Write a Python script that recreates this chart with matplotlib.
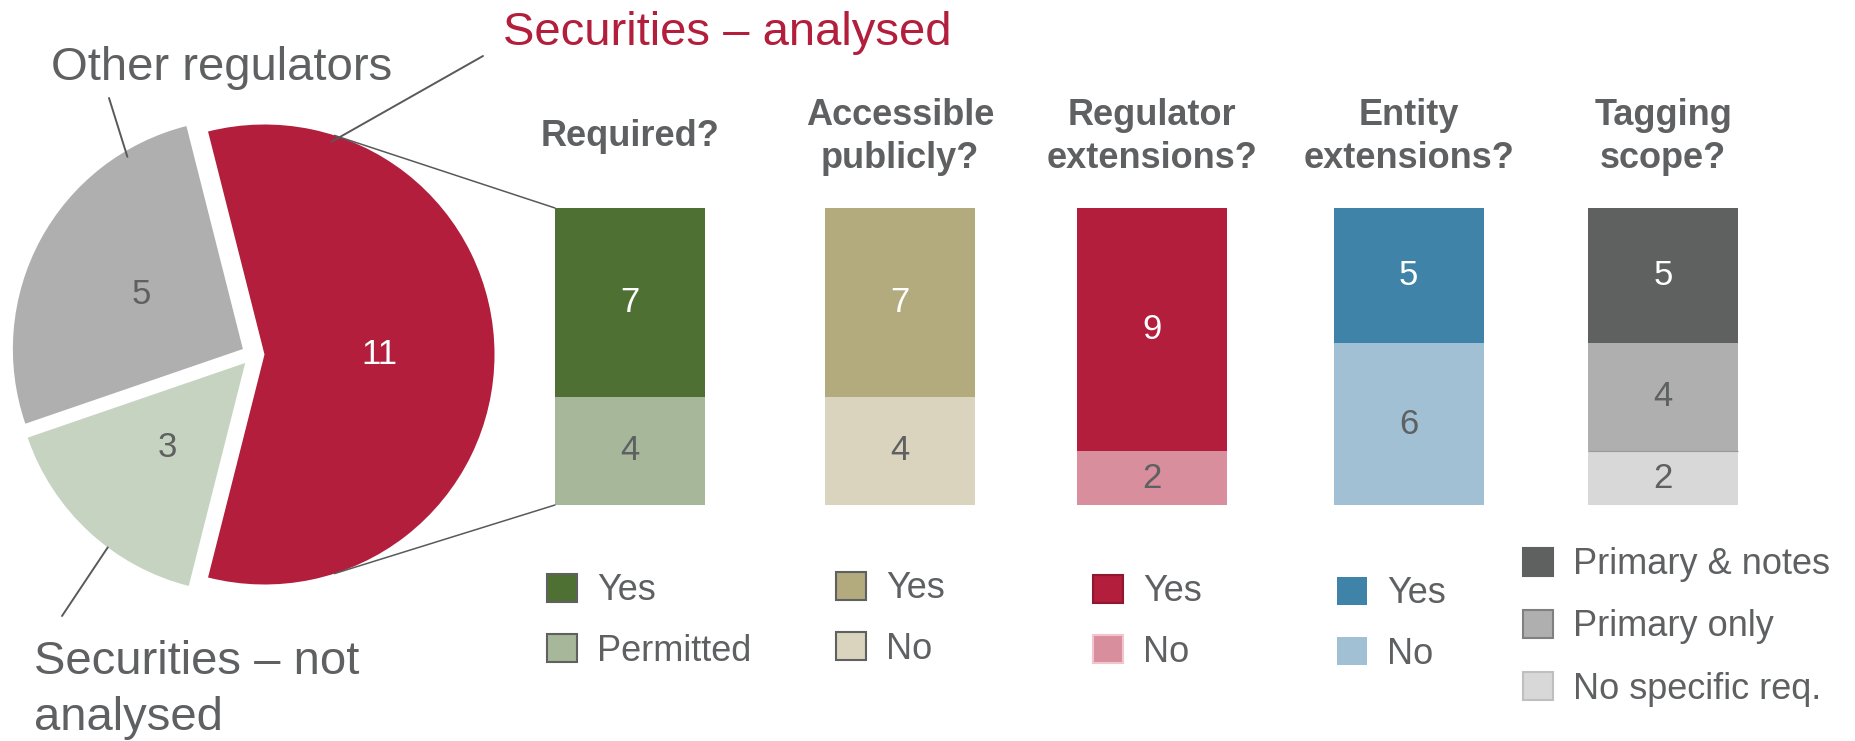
import numpy as np
import matplotlib
matplotlib.use('Agg')
import matplotlib.pyplot as plt
import matplotlib.transforms as mtransforms
from matplotlib.patches import Patch, ConnectionPatch

plt.rcParams['font.family'] = ['Liberation Sans', 'DejaVu Sans']

W, H = 1856, 741
TEXT = '#5F6062'
LINE = '#595959'

# pie: all regulators
pie_labels = ['Securities – analysed', 'Other regulators', 'Securities – not\nanalysed']
pie_values = [11, 5, 3]
pie_colors = ['#B21E3B', '#AFAFAF', '#C6D3C1']

# bars: breakdown of the analysed securities regulators
questions = ['Required?', 'Accessible\npublicly?', 'Regulator\nextensions?',
             'Entity\nextensions?', 'Tagging\nscope?']
answers = [['Yes', 'Permitted'],
           ['Yes', 'No'],
           ['Yes', 'No'],
           ['Yes', 'No'],
           ['Primary & notes', 'Primary only', 'No specific req.']]
counts = [[7, 4], [7, 4], [9, 2], [5, 6], [5, 4, 2]]
bar_colors = [['#4E7133', '#A7B799'],
              ['#B3AA7D', '#DAD4BE'],
              ['#B21E3B', '#D98E9D'],
              ['#3F83A9', '#A1C0D4'],
              ['#5F6060', '#AFAFAF', '#D8D8D8']]
legend_edges = [['#5F6060', '#5F6060'],
                ['#5F6060', '#5F6060'],
                ['#8E1830', '#F2C4CE'],
                ['none', 'none'],
                ['#5F6060', '#808080', '#BFBFBF']]

# layout (pixels from top-left of the picture)
bar_pos = [0, 1.05, 2.03, 3.03, 4.02]
legend_anchor = [(547, 621), (836, 619), (1093, 622), (1337, 624), (1523, 627)]


def fx(px):
    return px / W


def fy(py):
    return 1 - py / H


fig = plt.figure(figsize=(W / 100, H / 100), dpi=100)

# ---- pie ----
R_PX, CX, CY = 230, 253, 354.5
pie_ax = fig.add_axes([0, 0, 520 / W, 1])
total = sum(pie_values)
wedges, _, autotexts = pie_ax.pie(
    pie_values, explode=[0.05] * 3, colors=pie_colors,
    startangle=-180 * pie_values[0] / total,
    autopct=lambda p: f'{p * total / 100:.0f}', pctdistance=0.5,
    textprops=dict(fontsize=25, color=TEXT), wedgeprops=dict(linewidth=0))
autotexts[0].set_color('white')
pie_ax.set_xlim(-CX / R_PX, (520 - CX) / R_PX)
pie_ax.set_ylim((CY - H) / R_PX, CY / R_PX)
pie_ax.set_aspect('auto')
pie_ax.axis('off')


def on_wedge(w, ang, r=1.0):
    cx, cy = w.center
    a = np.deg2rad(ang)
    return cx + r * w.r * np.cos(a), cy + r * w.r * np.sin(a)


# leader lines and labels for the pie
leaders = [(0, 72.5, 0.97, (483, 56)), (1, 121, 0.975, (109, 98)), (2, 233.3, 1.0, (62, 616))]
for i, ang, r, (lx, ly) in leaders:
    pie_ax.annotate('', xy=on_wedge(wedges[i], ang, r), xycoords='data',
                    xytext=(fx(lx), fy(ly)), textcoords='figure fraction',
                    arrowprops=dict(arrowstyle='-', color=LINE, lw=1.4,
                                    shrinkA=0, shrinkB=0))

fig.text(fx(503), fy(45), pie_labels[0], fontsize=34, color=pie_colors[0],
         ha='left', va='baseline')
fig.text(fx(51), fy(80), pie_labels[1], fontsize=34, color=TEXT,
         ha='left', va='baseline')
fig.text(fx(34), fy(730), pie_labels[2], fontsize=34, color=TEXT,
         ha='left', va='baseline', linespacing=1.34)

# ---- stacked bars ----
unit = 257
bar_ax = fig.add_axes([fx(480), fy(505), (1800 - 480) / W, (505 - 208) / H])
width = 150 / unit
top_rects = []
for k, (vals, cols) in enumerate(zip(counts, bar_colors)):
    bottom = 0
    rects = []
    for j in range(len(vals) - 1, -1, -1):
        b = bar_ax.bar(bar_pos[k], vals[j], width=width, bottom=bottom,
                       color=cols[j], linewidth=0)
        rects.append(b[0])
        txt_col = 'white' if j == 0 else TEXT
        bar_ax.text(bar_pos[k], bottom + vals[j] / 2, str(vals[j]), fontsize=25,
                    color=txt_col, ha='center', va='center')
        bottom += vals[j]
    top_rects.append((rects[-1], rects[0]))
bar_ax.set_xlim((480 - 630) / unit, (1800 - 630) / unit)
bar_ax.set_ylim(0, 11)
bar_ax.axis('off')

# thin divider inside the tagging bar
tag_rect = top_rects[4][1]
bar_ax.hlines(tag_rect.get_y() + tag_rect.get_height(), tag_rect.get_x(),
              tag_rect.get_x() + tag_rect.get_width(), color='#999999', lw=0.8)

# titles above bars
trans = mtransforms.blended_transform_factory(bar_ax.transData, fig.transFigure)
for k, q in enumerate(questions):
    bar_ax.text(bar_pos[k], fy(137), q, transform=trans, fontsize=26,
                fontweight='bold', color=TEXT, ha='center', va='center',
                linespacing=1.32)

# connectors from the analysed slice to the first bar
top_r, bot_r = top_rects[0]
for ang, rect, yv in [(72.3, top_r, top_r.get_y() + top_r.get_height()),
                      (-72.3, bot_r, bot_r.get_y())]:
    con = ConnectionPatch(xyA=on_wedge(wedges[0], ang), coordsA=pie_ax.transData,
                          xyB=(rect.get_x(), yv), coordsB=bar_ax.transData,
                          color=LINE, lw=1.1)
    fig.add_artist(con)

# legends
for k in range(len(questions)):
    handles = [Patch(facecolor=c, edgecolor=e, linewidth=0 if e == 'none' else 1.5)
               for c, e in zip(bar_colors[k], legend_edges[k])]
    lx, ly = legend_anchor[k]
    spacing = 0.75 if k == 4 else 0.7
    fig.legend(handles, answers[k], loc='center left',
               bbox_to_anchor=(fx(lx), fy(ly)), bbox_transform=fig.transFigure,
               frameon=False, fontsize=26, handlelength=0.83, handleheight=0.83,
               handletextpad=0.55, labelspacing=spacing, borderpad=0,
               borderaxespad=0, labelcolor=TEXT)

fig.savefig('out.png', dpi=100)
